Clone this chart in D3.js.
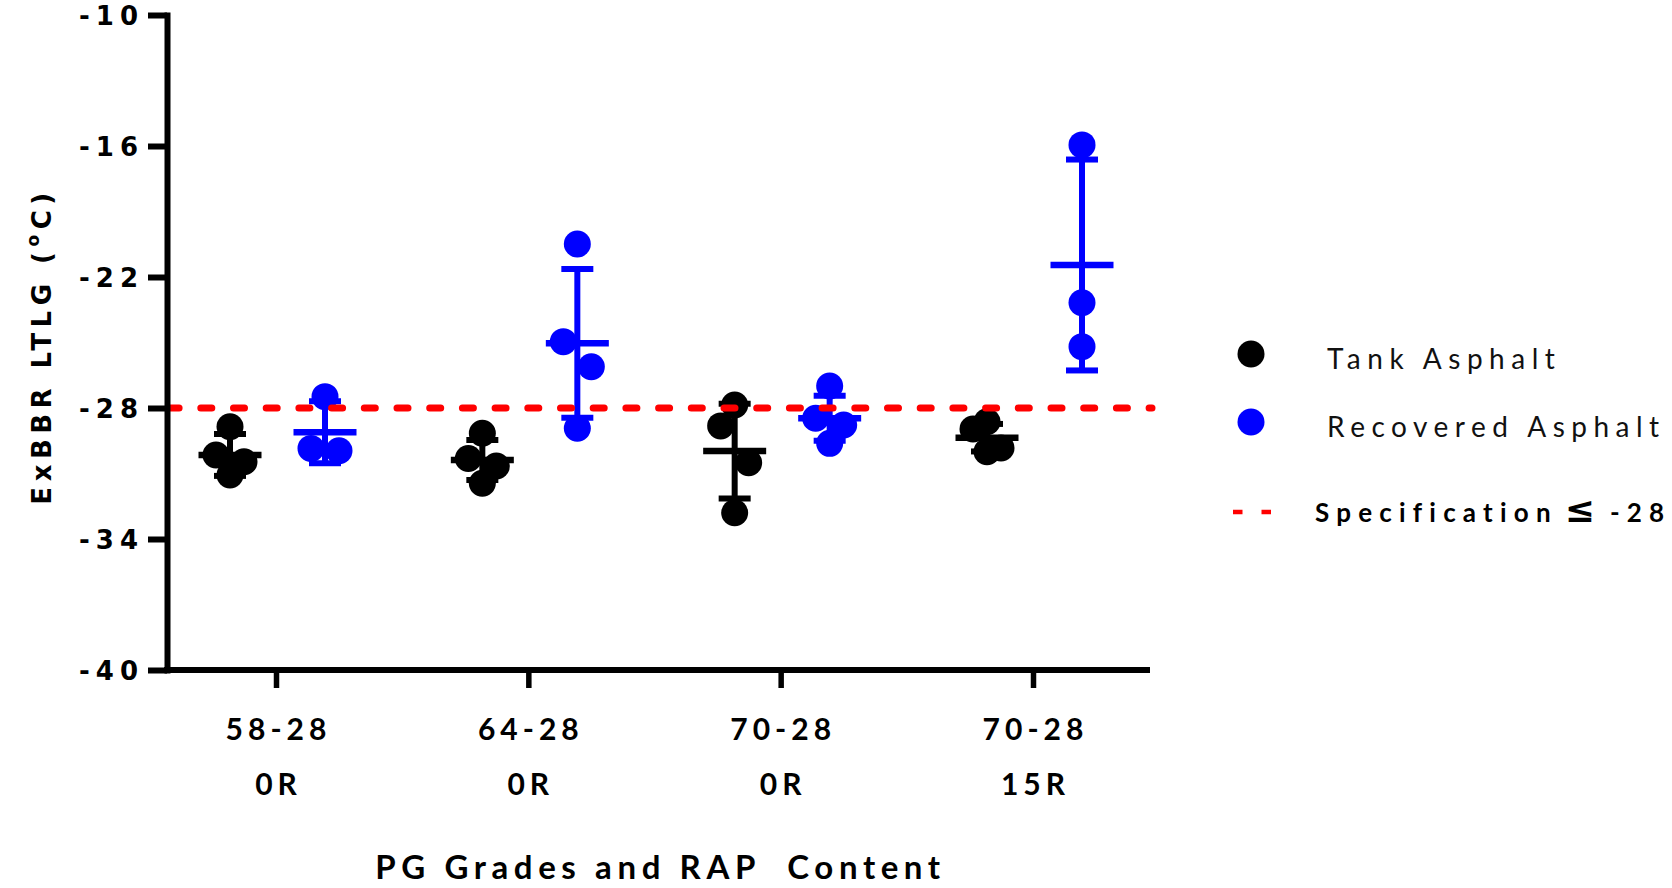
<!DOCTYPE html>
<html>
<head>
<meta charset="utf-8">
<script src="https://cdn.jsdelivr.net/npm/d3@7"></script>
<style>
  html, body { margin: 0; padding: 0; background: #fff; }
  svg { display: block; }
</style>
</head>
<body>
<svg id="chart" width="1672" height="888"></svg>
<script>
// ---------------- data ----------------
const gradeLabels = ["58-28", "64-28", "70-28", "70-28"];
const rapLabels   = ["0R", "0R", "0R", "15R"];
const seriesNames = ["Tank Asphalt", "Recovered Asphalt"];

const tankValues = [
  [-28.86, -30.15, -30.46, -31.07],
  [-29.16, -30.31, -30.66, -31.45],
  [-27.86, -28.82, -30.51, -32.80],
  [-28.63, -28.96, -29.83, -30.00]
];
const tankMean = [-30.15, -30.38, -29.97, -29.36];
const tankSD   = [0.96, 0.92, 2.17, 0.63];

const recoveredValues = [
  [-27.48, -29.85, -29.96],
  [-20.49, -24.96, -26.11, -28.93],
  [-26.99, -28.47, -28.78, -29.62],
  [-15.95, -23.18, -25.19]
];
const recoveredMean = [-29.11, -25.04, -28.47, -21.45];
const recoveredSD   = [1.42, 3.41, 1.03, 4.83];

const specLimit = -28;
const yTicks = [-10, -16, -22, -28, -34, -40];
const yDomain = [-40, -10];

// ---------------- layout ----------------
const plotLeft = 167, plotRight = 1150, plotTop = 15, plotBottom = 670;
const colors = { tank: "#000000", rec: "#0000ff", spec: "#ff0000" };
const R = 13.5;

const svg = d3.select("#chart");

const y = d3.scaleLinear().domain(yDomain).range([plotBottom, plotTop]);
const x = d3.scalePoint().domain(d3.range(gradeLabels.length))
  .range([plotLeft + 109, plotRight - 117]);
const sx = d3.scalePoint().domain(seriesNames).range([-46, 49]);

const series = [
  { name: seriesNames[0], values: tankValues, mean: tankMean, sd: tankSD, color: colors.tank },
  { name: seriesNames[1], values: recoveredValues, mean: recoveredMean, sd: recoveredSD, color: colors.rec }
];

// spread overlapping points sideways (pairs near the middle of the column)
function laneOffsets(vals) {
  const spread = 14, T = 40;
  const idx = vals.map((v, i) => i).sort((a, b) => vals[b] - vals[a]);
  const py = idx.map(i => y(vals[i]));
  const n = idx.length, c = (n - 1) / 2;
  const cands = [];
  for (let k = 0; k < n - 1; k++) {
    const gap = py[k + 1] - py[k];
    if (gap < T) cands.push({ k, gap, pri: Math.abs(k + 0.5 - c) });
  }
  cands.sort((a, b) => a.pri - b.pri || a.gap - b.gap);
  const used = new Array(n).fill(false);
  const off = new Array(n).fill(0);
  cands.forEach(cd => {
    if (!used[cd.k] && !used[cd.k + 1]) {
      used[cd.k] = used[cd.k + 1] = true;
      off[idx[cd.k]] = -spread;
      off[idx[cd.k + 1]] = spread;
    }
  });
  return off;
}

// ---------------- points ----------------
const gPts = svg.append("g");
series.forEach(s => {
  s.values.forEach((vals, ci) => {
    const offs = laneOffsets(vals);
    gPts.selectAll(null)
      .data(vals.map((v, j) => ({ v, o: offs[j] })))
      .enter().append("circle")
      .attr("cx", d => x(ci) + sx(s.name) + d.o)
      .attr("cy", d => y(d.v))
      .attr("r", R)
      .attr("fill", s.color);
  });
});

// ---------------- mean & SD bars ----------------
const gBars = svg.append("g");
series.forEach(s => {
  s.mean.forEach((m, ci) => {
    const cx = x(ci) + sx(s.name);
    const g = gBars.append("g").attr("stroke", s.color).attr("stroke-width", 6);
    g.append("line").attr("x1", cx).attr("x2", cx)
      .attr("y1", y(m + s.sd[ci])).attr("y2", y(m - s.sd[ci]));
    [m + s.sd[ci], m - s.sd[ci]].forEach(v => {
      g.append("line").attr("x1", cx - 16).attr("x2", cx + 16)
        .attr("y1", y(v)).attr("y2", y(v));
    });
    g.append("line").attr("x1", cx - 31.5).attr("x2", cx + 31.5)
      .attr("y1", y(m)).attr("y2", y(m)).attr("stroke-width", 6.5);
  });
});

// ---------------- specification line ----------------
svg.append("line")
  .attr("x1", plotLeft + 3.5).attr("x2", plotRight + 2)
  .attr("y1", y(specLimit)).attr("y2", y(specLimit))
  .attr("stroke", colors.spec).attr("stroke-width", 7)
  .attr("stroke-linecap", "round")
  .attr("stroke-dasharray", "11,21.7")
  .attr("stroke-dashoffset", 2.4);

// ---------------- axes ----------------
const yAxis = svg.append("g")
  .attr("transform", `translate(${plotLeft},0)`)
  .call(d3.axisLeft(y).tickValues(yTicks).tickSize(19).tickSizeOuter(0)
    .tickFormat(d => String(d)));
yAxis.select(".domain").attr("stroke", "#000").attr("stroke-width", 6).attr("stroke-linecap", "square");
yAxis.selectAll(".tick line").attr("stroke", "#000").attr("stroke-width", 6);
yAxis.selectAll(".tick text")
  .attr("fill", "#000")
  .style("font-family", "'DejaVu Sans', Verdana, sans-serif")
  .style("font-weight", "bold")
  .style("font-size", "26px")
  .style("letter-spacing", "6px")
  .attr("x", -23)
  .attr("dy", "0.36em");

// x axis line
svg.append("line")
  .attr("x1", plotLeft - 3).attr("x2", plotRight)
  .attr("y1", plotBottom).attr("y2", plotBottom)
  .attr("stroke", "#000").attr("stroke-width", 6);

const xAxis = svg.append("g")
  .attr("transform", `translate(0,${plotBottom})`)
  .call(d3.axisBottom(x).tickSize(18).tickSizeOuter(0).tickFormat(() => ""));
xAxis.select(".domain").remove();
xAxis.selectAll(".tick line").attr("stroke", "#000").attr("stroke-width", 5.5);
xAxis.selectAll(".tick text").remove();

const xLab = svg.append("g")
  .style("font-family", "Lato, 'Open Sans', sans-serif")
  .style("font-weight", "bold")
  .style("font-size", "30px")
  .style("letter-spacing", "5px")
  .attr("text-anchor", "middle")
  .attr("fill", "#000");
gradeLabels.forEach((g, i) => {
  xLab.append("text").attr("x", x(i) + 2.5).attr("y", 740).text(g);
  xLab.append("text").attr("x", x(i) + 2.5).attr("y", 795).text(rapLabels[i]);
});

// axis titles
svg.append("text")
  .attr("x", (plotLeft + plotRight) / 2 + 2).attr("y", 879)
  .attr("text-anchor", "middle")
  .style("font-family", "Lato, 'Open Sans', sans-serif")
  .style("font-weight", "bold")
  .style("font-size", "33px")
  .style("letter-spacing", "5.6px")
  .style("white-space", "pre")
  .attr("fill", "#000")
  .text("PG Grades and RAP  Content");

const yTitle = svg.append("text")
  .attr("transform", "translate(51,346) rotate(-90)")
  .attr("text-anchor", "middle")
  .style("font-family", "'DejaVu Sans', Verdana, sans-serif")
  .style("font-weight", "bold")
  .style("font-size", "26px")
  .style("letter-spacing", "5.5px")
  .style("white-space", "pre")
  .attr("fill", "#000");
yTitle.append("tspan").text("ExBBR LTLG (");
yTitle.append("tspan").attr("dy", -12).style("font-size", "17px").text("o");
yTitle.append("tspan").attr("dy", 12).text("C)");

// ---------------- legend ----------------
const leg = svg.append("g");
const legendRows = [
  { label: seriesNames[0], color: colors.tank, cy: 354 },
  { label: seriesNames[1], color: colors.rec, cy: 422 }
];
legendRows.forEach(r => {
  leg.append("circle").attr("cx", 1251).attr("cy", r.cy).attr("r", R).attr("fill", r.color);
  leg.append("text").attr("x", 1327).attr("y", r.cy + 15)
    .style("font-family", "Lato, 'Open Sans', sans-serif")
    .style("font-size", "28px")
    .style("letter-spacing", "6.5px")
    .attr("fill", "#111")
    .text(r.label);
});
leg.append("line")
  .attr("x1", 1233).attr("x2", 1271).attr("y1", 512).attr("y2", 512)
  .attr("stroke", colors.spec).attr("stroke-width", 4.5)
  .attr("stroke-dasharray", "9.5,19");
const specText = leg.append("text").attr("x", 1315).attr("y", 522)
  .style("font-family", "Lato, 'Open Sans', sans-serif")
  .style("font-weight", "bold")
  .style("font-size", "26px")
  .style("letter-spacing", "7.2px")
  .style("white-space", "pre")
  .attr("fill", "#000");
specText.append("tspan").text("Specification");
specText.append("tspan")
  .style("font-family", "'DejaVu Sans', sans-serif")
  .style("font-weight", "bold")
  .style("font-size", "36px")
  .style("letter-spacing", "0px")
  .attr("dx", 7)
  .text("\u2264");
specText.append("tspan").attr("dx", 15).text(String(specLimit));
</script>
</body>
</html>
